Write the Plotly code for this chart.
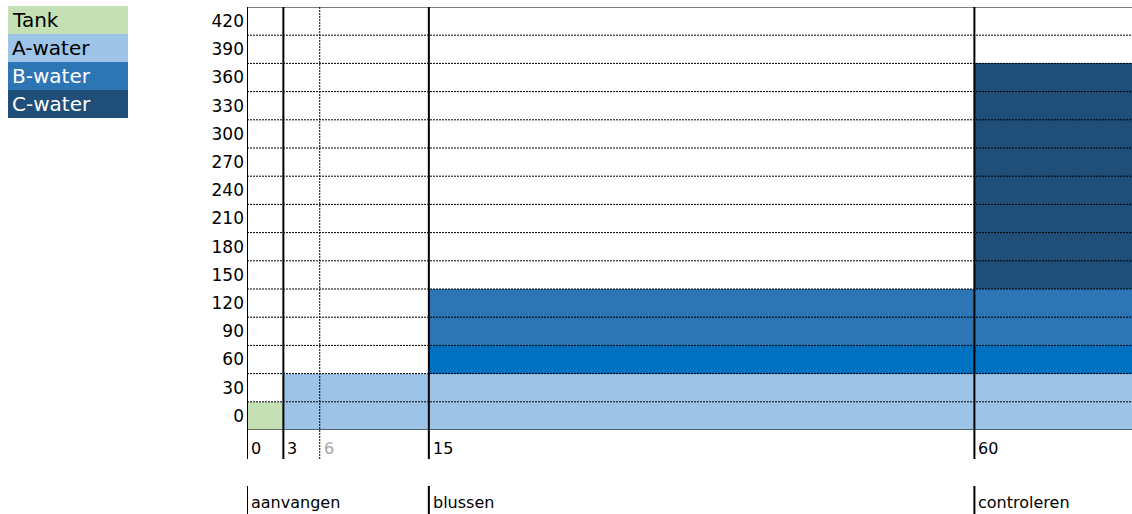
import plotly.graph_objects as go

# ---------------- data ----------------
x_end = 73  # right edge of the visible time axis (minutes)
y_top = 450

row_tick_pos = [15, 45, 75, 105, 135, 165, 195, 225, 255, 285, 315, 345, 375, 405, 435]
row_tick_text = ["0", "30", "60", "90", "120", "150", "180", "210", "240", "270",
                 "300", "330", "360", "390", "420"]
row_bounds = [30, 60, 90, 120, 150, 180, 210, 240, 270, 300, 330, 360, 390, 420]

block_names = ["Tank", "A-water", "B-water", "B-water", "C-water"]
block_start = [0, 3, 15, 15, 60]
block_end = [3, 73, 73, 73, 73]
block_base = [0, 0, 60, 90, 150]
block_height = [30, 60, 30, 60, 240]

time_ticks = [0, 3, 6, 15, 60]
time_tick_text = ["0", "3", "6", "15", "60"]

phase_names = ["aanvangen", "blussen", "controleren"]
phase_start = [0, 15, 60]

legend_names = ["Tank", "A-water", "B-water", "C-water"]

# ---------------- styles ----------------
block_colors = ["#C5E0B4", "#9DC3E6", "#0070C0", "#2E75B6", "#1F4E79"]
legend_colors = ["#C5E0B4", "#9DC3E6", "#2E75B6", "#1F4E79"]
legend_text_colors = ["black", "black", "white", "white"]
tick_solid = [True, True, False, True, True]
tick_text_colors = ["black", "black", "#A6A6A6", "black", "black"]
FONT = "DejaVu Sans"

W, H = 1132, 514
ML, MR, MT, MB = 247, 0, 7, 84
plot_h = H - MT - MB
plot_w = W - ML - MR

def py(px):  # pixel row -> paper y
    return (H - MB - px) / plot_h

def pxp(px):  # pixel col -> paper x
    return (px - ML) / plot_w

fig = go.Figure()

for name, s, e, b, h, c in zip(block_names, block_start, block_end, block_base,
                                block_height, block_colors):
    fig.add_trace(go.Bar(
        x=[(s + e) / 2], y=[h], base=[b], width=[e - s],
        marker=dict(color=c, line=dict(width=0)),
        name=name, showlegend=False, hoverinfo="skip",
    ))

shapes = []
# horizontal dashed row lines
for yb in row_bounds:
    shapes.append(dict(type="line", xref="paper", yref="y", x0=0, x1=1, y0=yb, y1=yb,
                       line=dict(color="black", width=1, dash="2px,1px"), layer="above"))
# top and bottom borders
for yb in (0, y_top):
    shapes.append(dict(type="line", xref="paper", yref="y", x0=0, x1=1, y0=yb, y1=yb,
                       line=dict(color="black", width=1), layer="above"))

# vertical time lines
for t, solid in zip(time_ticks, tick_solid):
    shapes.append(dict(type="line", xref="x", yref="paper", x0=t, x1=t,
                       y0=py(459), y1=1,
                       line=dict(color="black", width=2 if solid else 1,
                                 dash="solid" if solid else "2px,1px"),
                       layer="above"))
# phase lines
for t in phase_start:
    shapes.append(dict(type="line", xref="x", yref="paper", x0=t, x1=t,
                       y0=py(514), y1=py(486),
                       line=dict(color="black", width=2), layer="above"))

# legend boxes
row_px = [6, 34, 62, 90, 118]
annotations = []
for i, (nm, col, tc) in enumerate(zip(legend_names, legend_colors, legend_text_colors)):
    shapes.append(dict(type="rect", xref="paper", yref="paper",
                       x0=pxp(8), x1=pxp(128), y0=py(row_px[i + 1]), y1=py(row_px[i]),
                       fillcolor=col, line=dict(width=0), layer="above"))
    annotations.append(dict(xref="paper", yref="paper", x=pxp(10),
                            y=(py(row_px[i]) + py(row_px[i + 1])) / 2,
                            text=nm, showarrow=False, xanchor="left", yanchor="middle",
                            font=dict(family=FONT, size=20, color=tc)))

# time tick labels
for t, txt, tc in zip(time_ticks, time_tick_text, tick_text_colors):
    annotations.append(dict(xref="x", yref="paper", x=t, y=py(448), text=txt,
                            showarrow=False, xanchor="left", yanchor="middle", xshift=2,
                            font=dict(family=FONT, size=16, color=tc)))

# phase labels
for t, txt in zip(phase_start, phase_names):
    annotations.append(dict(xref="x", yref="paper", x=t, y=py(503), text=txt,
                            showarrow=False, xanchor="left", yanchor="middle", xshift=2,
                            font=dict(family=FONT, size=16, color="black")))

fig.update_layout(
    width=W, height=H,
    margin=dict(l=ML, r=MR, t=MT, b=MB),
    paper_bgcolor="white", plot_bgcolor="white",
    barmode="overlay", bargap=0,
    showlegend=False,
    shapes=shapes, annotations=annotations,
    xaxis=dict(range=[0, x_end], showticklabels=False, showgrid=False,
               zeroline=False, showline=False, ticks="", fixedrange=True),
    yaxis=dict(range=[0, y_top], tickmode="array", tickvals=row_tick_pos,
               ticktext=row_tick_text, showgrid=False, zeroline=False, showline=False,
               ticks="", ticklabelstandoff=2,
               tickfont=dict(family=FONT, size=17, color="black"), fixedrange=True),
)

fig.write_html("out.html")
